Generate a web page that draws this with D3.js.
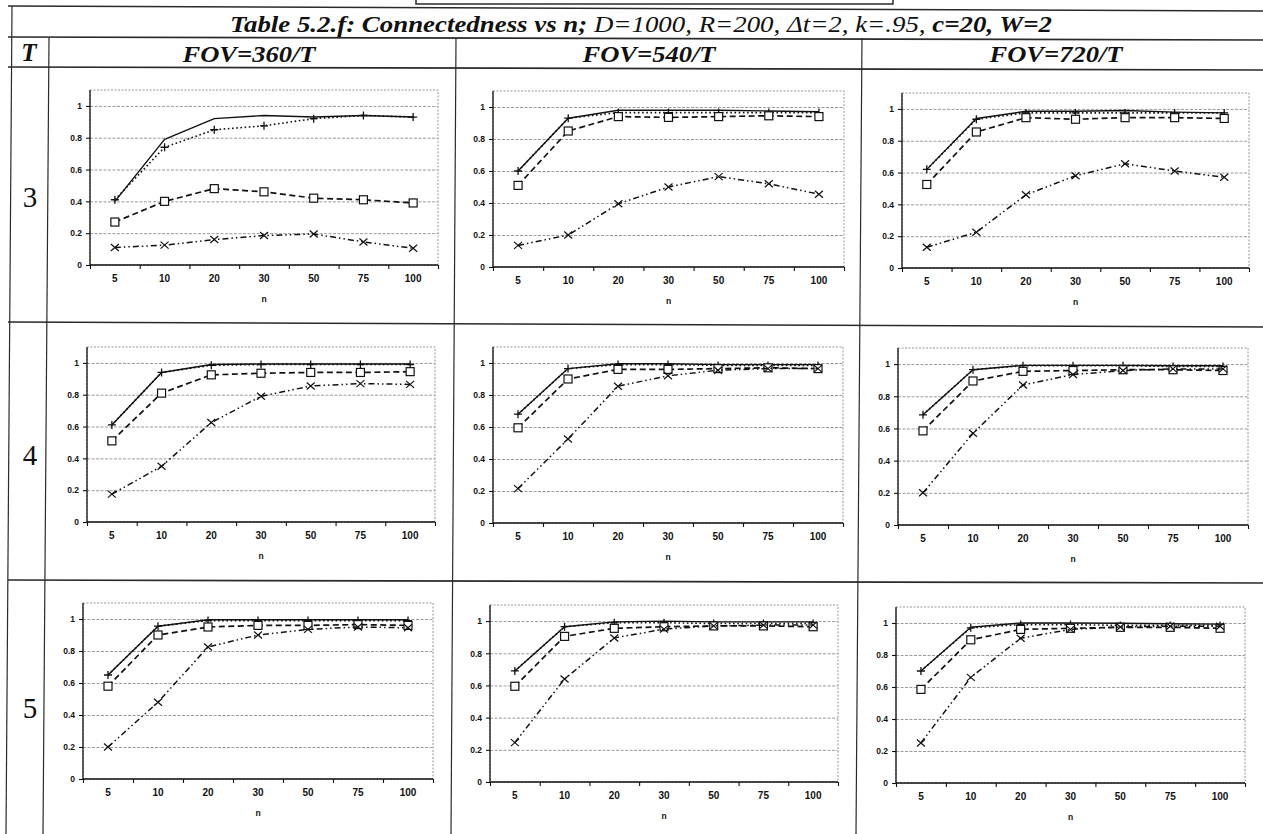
<!DOCTYPE html>
<html><head><meta charset="utf-8">
<script src="https://cdn.jsdelivr.net/npm/d3@7"></script>
<style>body{margin:0;background:#fff} svg{display:block}
.serif{font-family:"Liberation Serif","Times New Roman",serif}
.sans{font-family:"Liberation Sans",Arial,sans-serif}
</style>
</head><body><svg id="c" width="1263" height="834"></svg>
<script>
// ---------- data ----------
const nCats = ["5","10","20","30","50","75","100"];
const yTickVals = [0, 0.2, 0.4, 0.6, 0.8, 1];
const rowT = ["3","4","5"];
const colFov = ["FOV=360/T","FOV=540/T","FOV=720/T"];
// panels row-major: T=3 (360,540,720), T=4 (...), T=5 (...)
const solidSeries = [
  [0.40,0.79,0.92,0.94,0.93,0.94,0.93],
  [0.60,0.93,0.98,0.98,0.98,0.975,0.97],
  [0.62,0.94,0.985,0.985,0.99,0.98,0.975],
  [0.61,0.94,0.99,0.993,0.993,0.993,0.993],
  [0.68,0.965,0.995,0.995,0.99,0.99,0.99],
  [0.685,0.965,0.992,0.992,0.992,0.99,0.99],
  [0.65,0.955,0.995,0.995,0.995,0.995,0.995],
  [0.69,0.965,0.995,1.0,0.995,0.995,0.995],
  [0.70,0.973,1.0,1.0,0.998,0.995,0.993]
];
const dottedSeries = [
  [0.41,0.74,0.85,0.875,0.92,0.94,0.93],
  [0.60,0.93,0.965,0.965,0.965,0.965,0.965],
  [0.62,0.935,0.975,0.975,0.975,0.975,0.975],
  [0.61,0.94,0.985,0.99,0.99,0.99,0.99],
  [0.68,0.965,0.99,0.99,0.985,0.985,0.985],
  [0.685,0.965,0.99,0.99,0.99,0.985,0.985],
  [0.65,0.955,0.99,0.99,0.99,0.99,0.99],
  [0.69,0.965,0.99,0.99,0.985,0.985,0.985],
  [0.70,0.97,0.99,0.99,0.985,0.985,0.985]
];
const dashedSeries = [
  [0.27,0.40,0.48,0.46,0.42,0.41,0.39],
  [0.51,0.85,0.94,0.935,0.94,0.945,0.94],
  [0.525,0.855,0.945,0.935,0.945,0.945,0.94],
  [0.51,0.81,0.925,0.935,0.94,0.94,0.945],
  [0.595,0.90,0.96,0.96,0.965,0.97,0.965],
  [0.585,0.895,0.955,0.96,0.965,0.965,0.96],
  [0.58,0.90,0.95,0.96,0.96,0.965,0.96],
  [0.595,0.905,0.955,0.965,0.97,0.97,0.965],
  [0.585,0.895,0.96,0.967,0.973,0.973,0.967]
];
const dashDotSeries = [
  [0.11,0.125,0.16,0.185,0.195,0.145,0.105],
  [0.135,0.20,0.395,0.50,0.565,0.52,0.455],
  [0.13,0.225,0.46,0.58,0.655,0.61,0.57],
  [0.175,0.35,0.625,0.79,0.855,0.87,0.865],
  [0.215,0.525,0.855,0.92,0.955,0.965,0.965],
  [0.20,0.57,0.87,0.935,0.96,0.97,0.97],
  [0.20,0.48,0.825,0.90,0.935,0.95,0.945],
  [0.245,0.64,0.895,0.95,0.97,0.975,0.975],
  [0.25,0.66,0.905,0.96,0.975,0.98,0.98]
];

// ---------- layout (pixels) ----------
// [x left axis, x right, y of value 0, y of plot top (1.1)]
const panelBoxes = [
  [90,438,265,90],[493,844,267,91],[902,1249,268,93],
  [87,435,522,347],[493,843,523,347],[898,1248,525,348],
  [83,433,779,603],[490,838,782,605],[896,1245,783,607]
];

const svg = d3.select("#c");
svg.append("rect").attr("width",1263).attr("height",834).attr("fill","#fff");

// ---------- table frame ----------
const ink = "#2a2a2a";
const hLines = [[6,11],[37,40],[67,70],[322,327],[580,583]];
hLines.forEach(([yl,yr]) => svg.append("line").attr("x1",8).attr("x2",1263).attr("y1",yl).attr("y2",yr)
  .attr("stroke",ink).attr("stroke-width",1.7));
const vLines = [[12,6,6],[49,43,38],[456,451,38],[862,856,38]];
vLines.forEach(([xt,xb,yt]) => svg.append("line").attr("x1",xt).attr("x2",xb).attr("y1",yt).attr("y2",834)
  .attr("stroke",ink).attr("stroke-width",1.2));
// partial box of previous item at top
svg.append("rect").attr("x",416).attr("y",-6).attr("width",477).attr("height",10)
  .attr("fill","none").attr("stroke",ink).attr("stroke-width",1.5);

// title
const title = svg.append("text").attr("class","serif").attr("x",641).attr("y",32).attr("text-anchor","middle")
  .attr("font-size",24).attr("font-style","italic").attr("fill","#111")
  .attr("textLength",822).attr("lengthAdjust","spacingAndGlyphs");
title.append("tspan").attr("font-weight","bold").text("Table 5.2.f: Connectedness vs n; ");
title.append("tspan").attr("font-weight","normal").text("D=1000, R=200, \u0394t=2, k=.95, ");
title.append("tspan").attr("font-weight","bold").text("c=20, W=2");

// header row
svg.append("text").attr("class","serif").attr("x",29).attr("y",61).attr("text-anchor","middle")
  .attr("font-size",25).attr("font-weight","bold").attr("font-style","italic")
  .attr("fill","#111").text("T");
const colCenters = [249, 649, 1056];
colFov.forEach((t,i) => svg.append("text").attr("class","serif").attr("x",colCenters[i]).attr("y",62).attr("text-anchor","middle")
  .attr("font-size",24).attr("font-weight","bold").attr("font-style","italic")
  .attr("fill","#111").attr("textLength",133).attr("lengthAdjust","spacingAndGlyphs").text(t));
const rowCenters = [197, 455, 708];
rowT.forEach((t,i) => svg.append("text").attr("class","serif").attr("x",30).attr("y",rowCenters[i]+10).attr("text-anchor","middle")
  .attr("font-size",29).attr("fill","#111").text(t));

// ---------- charts ----------
const seriesDefs = [
  {data: solidSeries,   dash: null,              width: 1.4, marker: null},
  {data: dottedSeries,  dash: "1.6,2.6",         width: 1.6, marker: "plus"},
  {data: dashedSeries,  dash: "6,3.5",           width: 1.7, marker: "square"},
  {data: dashDotSeries, dash: "6,3,1.5,3,1.5,3", width: 1.5, marker: "cross"}
];

panelBoxes.forEach((b,pi) => {
  const [xl,xr,y0,yt] = b;
  const g = svg.append("g");
  const x = d3.scaleBand().domain(nCats).range([xl,xr]).padding(0);
  const xEdges = d3.scaleLinear().domain([0,nCats.length]).range([xl,xr]);
  const y = d3.scaleLinear().domain([0,1.1]).range([y0,yt]);
  const cx = c => x(c) + x.bandwidth()/2;

  // plot area border (dotted)
  g.append("rect").attr("x",xl).attr("y",yt).attr("width",xr-xl).attr("height",y0-yt)
    .attr("fill","none").attr("stroke","#8a8a8a").attr("stroke-width",0.9).attr("stroke-dasharray","2,1.5");

  // gridlines
  const grid = g.append("g").attr("transform",`translate(${xl},0)`)
    .call(d3.axisLeft(y).tickValues(yTickVals.slice(1)).tickSize(-(xr-xl)).tickFormat(""));
  grid.select(".domain").remove();
  grid.selectAll("line").attr("stroke","#8f8f8f").attr("stroke-width",0.9).attr("stroke-dasharray","3,1.5");

  // y axis
  const ya = g.append("g").attr("transform",`translate(${xl},0)`)
    .call(d3.axisLeft(y).tickValues(yTickVals).tickSize(4).tickPadding(4).tickFormat(d => d===0?"0":d===1?"1":d3.format(".1f")(d)));
  ya.select(".domain").attr("stroke","#111").attr("stroke-width",1.3).attr("d",`M-0,${y0}V${yt}`);
  ya.selectAll("line").attr("stroke","#111").attr("stroke-width",1.1);
  ya.selectAll("text").attr("class","sans").attr("font-family",null).attr("font-size",8.5).attr("font-weight","bold").attr("fill","#111");

  // x axis tick marks at category boundaries
  const xm = g.append("g").attr("transform",`translate(0,${y0})`)
    .call(d3.axisBottom(xEdges).tickValues(d3.range(0,nCats.length+1)).tickSize(4).tickFormat(""));
  xm.select(".domain").attr("stroke","#111").attr("stroke-width",1.4).attr("d",`M${xl},0H${xr}`);
  xm.selectAll("line").attr("stroke","#111").attr("stroke-width",1.1);
  // x labels
  const xa = g.append("g").attr("transform",`translate(0,${y0})`)
    .call(d3.axisBottom(x).tickSize(0).tickPadding(10));
  xa.attr("font-family",null);
  xa.select(".domain").remove();
  xa.selectAll("text").attr("class","sans").attr("font-size",10).attr("font-weight","bold").attr("fill","#111");
  g.append("text").attr("class","sans").attr("x",(xl+xr)/2).attr("y",y0+37).attr("text-anchor","middle")
    .attr("font-size",8.5).attr("font-weight","bold").attr("fill","#111").text("n");

  // series
  const line = d3.line().x((d,i) => cx(nCats[i])).y(d => y(d));
  seriesDefs.forEach(s => {
    const vals = s.data[pi];
    g.append("path").attr("d",line(vals)).attr("fill","none").attr("stroke","#111")
      .attr("stroke-width",s.width).attr("stroke-dasharray",s.dash).attr("stroke-linejoin","round");
    if (!s.marker) return;
    const m = g.append("g").selectAll("g").data(vals).join("g")
      .attr("transform",(d,i) => `translate(${cx(nCats[i])},${y(d)})`);
    if (s.marker === "plus") {
      m.append("path").attr("d","M-4,0H4M0,-4V4").attr("stroke","#111").attr("stroke-width",1.3);
    } else if (s.marker === "square") {
      m.append("rect").attr("x",-4).attr("y",-4).attr("width",8).attr("height",8)
        .attr("fill","#fff").attr("stroke","#111").attr("stroke-width",1.2);
    } else if (s.marker === "cross") {
      m.append("path").attr("d","M-4,-3.5L4,3.5M-4,3.5L4,-3.5").attr("stroke","#111").attr("stroke-width",1.2);
    }
  });
});
</script>
</body></html>
